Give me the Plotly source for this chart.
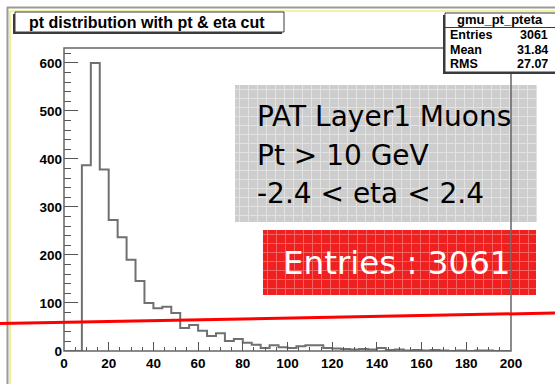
import numpy as np
import plotly.graph_objects as go

# --- histogram data: muon pt, 4 GeV bins from 0 to 200 ---
bin_edges = list(range(0, 204, 4))
counts = [0, 0, 387, 600, 378, 273, 237, 190, 146, 100,
          89, 92, 79, 48, 54, 42, 31, 37, 21, 25,
          17, 13, 6, 12, 8, 6, 10, 12, 12, 6,
          5, 4, 3, 4, 3, 6, 2, 3, 1, 2,
          1, 2, 1, 0, 1, 0, 1, 1, 0, 0]

hist_name = "gmu_pt_pteta"
stat_labels = ["Entries", "Mean", "RMS"]
stat_values = ["3061", "31.84", "27.07"]
title_text = "pt distribution with pt & eta cut"
info_lines = ["PAT Layer1 Muons", "Pt > 10 GeV", "-2.4 < eta < 2.4"]
entries_text = "Entries : 3061"

x_ticks = list(range(0, 220, 20))
y_ticks = list(range(0, 700, 100))

# --- canvas geometry (pixels) ---
W, H = 555, 384
ML, MR, MT, MB = 64, 44, 48, 33
PW, PH = W - ML - MR, H - MT - MB


def px(x):
    return (x - ML) / PW


def py(y):
    return (H - MB - y) / PH


def rect(x0, y0, x1, y1, fill, line_color=None, line_width=0):
    return dict(type="rect", xref="paper", yref="paper",
                x0=px(x0), x1=px(x1), y0=py(y1), y1=py(y0),
                line=dict(color=line_color or fill, width=line_width), fillcolor=fill)


def seg(x0, y0, x1, y1, color, width):
    return dict(type="line", xref="paper", yref="paper",
                x0=px(x0), x1=px(x1), y0=py(y0), y1=py(y1),
                line=dict(color=color, width=width))


def textured_box(x0, y0, x1, y1, base, grid_color, step):
    """Filled box with a fine woven grid, like a hatched fill."""
    out = [rect(x0, y0, x1, y1, base)]
    gx = x0 + step / 2
    while gx < x1:
        out.append(seg(gx, y0, gx, y1, grid_color, 1))
        gx += step
    gy = y0 + step / 2
    while gy < y1:
        out.append(seg(x0, gy, x1, gy, grid_color, 1))
        gy += step
    return out


step_x = bin_edges
step_y = counts + [counts[-1]]

fig = go.Figure()
fig.add_trace(go.Scatter(
    x=step_x, y=step_y, mode="lines", line_shape="hv",
    line=dict(color="#707070", width=2), hoverinfo="skip", showlegend=False,
))

shapes = []
# outer canvas borders
shapes.append(seg(7, 7.5, W + 5, 7.5, "#9a9a9a", 2))
shapes.append(seg(7.5, 7, 7.5, H + 5, "#9a9a9a", 2))
shapes.append(seg(10, 11, W + 5, 11, "#e6e64a", 1.2))
shapes.append(seg(10, 11, 10, H + 5, "#e6e64a", 1.2))

# title box with shadow
shapes.append(rect(13, 14, 282, 34, "#3a3a3a"))
shapes.append(rect(15, 12, 284, 32, "white", "#3a3a3a", 1))

# text boxes (under the frame line)
shapes += textured_box(235, 85, 537, 222, "#cdcdcd", "#e2e2e2", 9)
shapes += textured_box(263, 230, 536, 295, "#ee2020", "#f56262", 9)

# plot frame
shapes.append(dict(type="rect", xref="paper", yref="paper", x0=0, x1=1, y0=0, y1=1,
                   line=dict(color="#666666", width=1.5)))

# stats box with shadow
shapes.append(rect(443, 15, W + 5, 74, "#3a3a3a"))
shapes.append(rect(445, 13, W + 5, 72, "white", "#3a3a3a", 1))
shapes.append(seg(445, 27.5, W + 5, 27.5, "#3a3a3a", 1))

# red cut line across the canvas
shapes.append(seg(0, 323.5, W, 313, "#ff0000", 3))

annotations = []
root_font = "Liberation Sans, Arial, sans-serif"
annotations.append(dict(xref="paper", yref="paper", x=px(27), y=py(22.5), xanchor="left", yanchor="middle",
                        text=title_text, showarrow=False,
                        font=dict(family=root_font, size=16, color="black", weight="bold")))
annotations.append(dict(xref="paper", yref="paper", x=px(500), y=py(20), xanchor="center", yanchor="middle",
                        text=hist_name, showarrow=False,
                        font=dict(family=root_font, size=13, color="black", weight="bold")))
for i, (lab, val) in enumerate(zip(stat_labels, stat_values)):
    yy = 35 + i * 14.7
    annotations.append(dict(xref="paper", yref="paper", x=px(448), y=py(yy), xanchor="left", yanchor="middle",
                            text=lab, showarrow=False,
                            font=dict(family=root_font, size=12.5, color="black", weight="bold")))
    annotations.append(dict(xref="paper", yref="paper", x=px(550), y=py(yy), xanchor="right", yanchor="middle",
                            text=val, showarrow=False,
                            font=dict(family=root_font, size=12.5, color="black", weight="bold")))

box_font = "DejaVu Sans, Verdana, sans-serif"
for i, line in enumerate(info_lines):
    annotations.append(dict(xref="paper", yref="paper", x=px(255), y=py(116 + i * 39), xanchor="left",
                            yanchor="middle", text=line, showarrow=False,
                            font=dict(family=box_font, size=28, color="black")))
annotations.append(dict(xref="paper", yref="paper", x=px(281), y=py(263), xanchor="left", yanchor="middle",
                        text=entries_text, showarrow=False,
                        font=dict(family=box_font, size=32.5, color="white")))

tick_font = dict(family=root_font, size=13.5, color="black", weight="bold")
fig.update_layout(
    width=W, height=H,
    margin=dict(l=ML, r=MR, t=MT, b=MB, pad=0),
    paper_bgcolor="white", plot_bgcolor="white",
    shapes=shapes, annotations=annotations,
    xaxis=dict(range=[0, 200], tickvals=x_ticks, ticks="inside", ticklen=9, tickwidth=1.2,
               tickcolor="#555555", showgrid=False, zeroline=False, showline=False,
               tickfont=tick_font, ticklabelstandoff=2,
               minor=dict(dtick=5, ticks="inside", ticklen=4, tickcolor="#555555", showgrid=False)),
    yaxis=dict(range=[0, 631], tickvals=y_ticks, ticks="inside", ticklen=14, tickwidth=1.2,
               tickcolor="#555555", showgrid=False, zeroline=False, showline=False,
               tickfont=tick_font, ticklabelstandoff=1,
               minor=dict(dtick=20, ticks="inside", ticklen=7, tickcolor="#555555", showgrid=False)),
)

fig.write_html("out.html")
